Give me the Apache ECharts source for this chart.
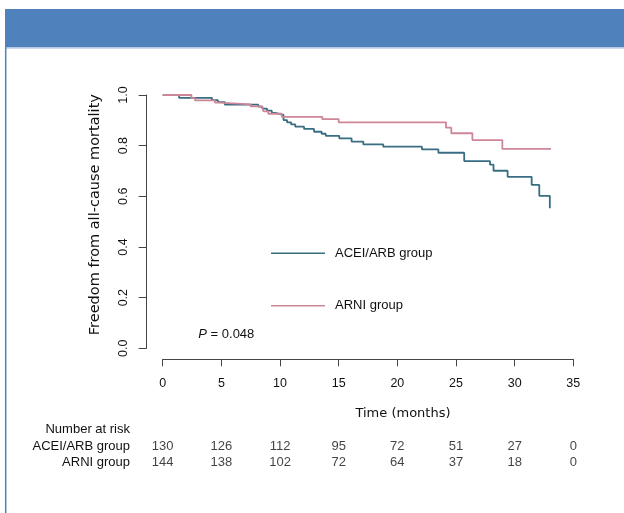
<!DOCTYPE html>
<html><head><meta charset="utf-8">
<script src="https://cdn.jsdelivr.net/npm/echarts@6/dist/echarts.min.js"></script>
<style>html,body{margin:0;padding:0;background:#fff}#c{width:624px;height:513px}</style>
</head><body><div id="c"></div>
<script>
// Kaplan-Meier step data
const aceiTime = [0, 1.4, 4.2, 4.7, 5.3, 8.15, 8.5, 8.9, 9.3, 9.6, 10.3, 10.6, 10.95, 11.3, 12.05, 12.9, 13.55, 13.9, 15.05, 16.1, 17.1, 18.8, 22.1, 23.5, 25.7, 27.9, 28.2, 29.4, 31.45, 32.1, 33.0];
const aceiSurv = [1.0, 0.989, 0.980, 0.972, 0.962, 0.954, 0.946, 0.938, 0.929, 0.922, 0.901, 0.892, 0.884, 0.875, 0.866, 0.855, 0.847, 0.839, 0.829, 0.816, 0.805, 0.796, 0.785, 0.772, 0.739, 0.725, 0.701, 0.677, 0.645, 0.602, 0.553];
const arniTime = [0, 2.45, 2.75, 4.45, 4.8, 7.5, 8.45, 8.6, 9.0, 10.15, 13.6, 15.0, 24.15, 24.6, 26.4, 28.95, 33.1];
const arniSurv = [1.0, 0.988, 0.979, 0.970, 0.963, 0.955, 0.948, 0.935, 0.926, 0.914, 0.905, 0.892, 0.871, 0.849, 0.822, 0.787, 0.787];
const seriesNames = ['ACEI/ARB group', 'ARNI group'];
const riskTimes = [0, 5, 10, 15, 20, 25, 30, 35];
const riskAcei = [130, 126, 112, 95, 72, 51, 27, 0];
const riskArni = [144, 138, 102, 72, 64, 37, 18, 0];
const xTicks = [0, 5, 10, 15, 20, 25, 30, 35];
const yTicks = [0, 0.2, 0.4, 0.6, 0.8, 1.0];
const pText = '0.048';

const teal = '#386d82', pink = '#cd8598';
const sans = '"Liberation Sans", Arial, sans-serif';
const dvs = '"DejaVu Sans", sans-serif';

const chart = echarts.init(document.getElementById('c'), null, {renderer: 'canvas'});
const riskData = [];
riskTimes.forEach((t, i) => {
  riskData.push([t, seriesNames[0], riskAcei[i]]);
  riskData.push([t, seriesNames[1], riskArni[i]]);
});

chart.setOption({
  animation: false,
  backgroundColor: '#fff',
  grid: [
    {left: 162.7, right: 50.7, top: 95, bottom: 164.7},
    {left: 162.7, right: 50.7, top: 438, height: 32}
  ],
  xAxis: [{
    type: 'value', gridIndex: 0, min: xTicks[0], max: xTicks[xTicks.length - 1], interval: 5,
    offset: 11, splitLine: {show: false},
    axisLine: {show: true, onZero: false, lineStyle: {color: '#444', width: 1}},
    axisTick: {show: true, length: 7, lineStyle: {color: '#444'}},
    axisLabel: {margin: 18, color: '#111', fontFamily: sans, fontSize: 12.5},
    name: 'Time (months)', nameLocation: 'middle', nameGap: 48,
    nameTextStyle: {fontFamily: dvs, fontSize: 13, color: '#111', padding: [0, 0, 0, 70]}
  }, {
    type: 'value', gridIndex: 1, min: 0, max: 35, show: false
  }],
  yAxis: [{
    type: 'value', gridIndex: 0, min: yTicks[0], max: yTicks[yTicks.length - 1], interval: 0.2,
    offset: 16, splitLine: {show: false},
    axisLine: {show: true, onZero: false, lineStyle: {color: '#444', width: 1}},
    axisTick: {show: true, length: 8, lineStyle: {color: '#444'}},
    axisLabel: {rotate: 90, margin: 17, color: '#111', fontFamily: sans, fontSize: 12.5,
      formatter: v => v.toFixed(1)},
    name: 'Freedom from all-cause mortality', nameLocation: 'middle', nameGap: 44, nameRotate: 90,
    nameTextStyle: {fontFamily: dvs, fontSize: 14.5, color: '#111', padding: [0, 0, 0, 14]}
  }, {
    type: 'category', gridIndex: 1, data: seriesNames, inverse: true,
    axisLine: {show: false}, axisTick: {show: false}, splitLine: {show: false},
    axisLabel: {interval: 0, margin: 32.7, color: '#111', fontFamily: sans, fontSize: 13}
  }],
  legend: {
    orient: 'vertical', left: 271, top: 246.8, padding: 0, itemWidth: 54, itemHeight: 1.5, itemGap: 39.4,
    icon: 'rect', data: seriesNames,
    textStyle: {fontFamily: sans, fontSize: 13, color: '#111', padding: [0, 0, 0, 5]}
  },
  series: [{
    name: seriesNames[0], type: 'line', step: 'end', symbol: 'none',
    xAxisIndex: 0, yAxisIndex: 0,
    lineStyle: {color: teal, width: 1.8}, itemStyle: {color: teal},
    data: aceiTime.map((t, i) => [t, aceiSurv[i]])
  }, {
    name: seriesNames[1], type: 'line', step: 'end', symbol: 'none',
    xAxisIndex: 0, yAxisIndex: 0,
    lineStyle: {color: pink, width: 1.8}, itemStyle: {color: pink},
    data: arniTime.map((t, i) => [t, arniSurv[i]])
  }, {
    name: 'risk', type: 'scatter', xAxisIndex: 1, yAxisIndex: 1,
    symbolSize: 1, itemStyle: {color: 'rgba(0,0,0,0)'},
    label: {show: true, position: 'inside', formatter: p => String(p.value[2]),
      fontFamily: sans, fontSize: 13, color: '#111'},
    data: riskData
  }],
  graphic: [
    {type: 'rect', shape: {x: 5, y: 9, width: 619, height: 38.5}, style: {fill: '#4f81bd'}, silent: true},
    {type: 'line', shape: {x1: 5, y1: 48, x2: 624, y2: 48}, style: {stroke: '#b9cde6', lineWidth: 1.5}},
    {type: 'line', shape: {x1: 5.7, y1: 47, x2: 5.7, y2: 513}, style: {stroke: '#4f81bd', lineWidth: 1.5}},
    {type: 'text', x: 130, y: 429, style: {text: 'Number at risk', font: '13px ' + sans, fill: '#111',
      textAlign: 'right', textVerticalAlign: 'middle'}},
    {type: 'text', x: 198.3, y: 334.3, style: {
      text: '{i|P} = ' + pText, textVerticalAlign: 'middle', font: '13px ' + sans, fill: '#111',
      rich: {i: {fontStyle: 'italic', fontFamily: sans, fontSize: 13, fill: '#111'}}}}
  ]
});
</script></body></html>
